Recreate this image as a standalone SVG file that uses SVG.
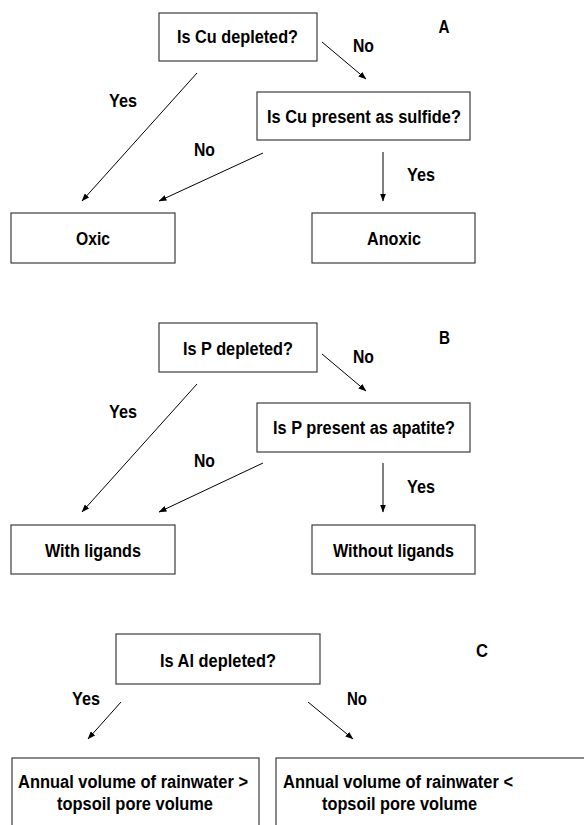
<svg xmlns="http://www.w3.org/2000/svg" width="584" height="825" viewBox="0 0 584 825">
<defs>
<marker id="ah" markerWidth="8" markerHeight="6" refX="7.5" refY="3" orient="auto" markerUnits="userSpaceOnUse">
<path d="M0,0 L8,3 L0,6 Z" fill="#000"/>
</marker>
<style>
.box{fill:#fff;stroke:#3c3c3c;stroke-width:1.2}
.t{font-family:"Liberation Sans",Arial,sans-serif;font-weight:bold;font-size:18px;fill:#000;text-anchor:middle}
.l{font-family:"Liberation Sans",Arial,sans-serif;font-weight:bold;font-size:18px;fill:#000}
.c{stroke:#000;stroke-width:1;fill:none;marker-end:url(#ah)}
</style>
</defs>
<rect width="584" height="825" fill="#fff"/>

<g id="panelA">
<g id="a_q1"><rect class="box" x="159" y="13" width="158" height="48"/><text class="t" x="237.5" y="43" textLength="121" lengthAdjust="spacingAndGlyphs">Is Cu depleted?</text></g>
<g id="a_q2"><rect class="box" x="257" y="92" width="213" height="48"/><text class="t" x="364" y="123" textLength="194" lengthAdjust="spacingAndGlyphs">Is Cu present as sulfide?</text></g>
<g id="a_oxic"><rect class="box" x="11" y="213" width="164" height="50"/><text class="t" x="93" y="245" textLength="34" lengthAdjust="spacingAndGlyphs">Oxic</text></g>
<g id="a_anoxic"><rect class="box" x="312" y="213" width="163" height="50"/><text class="t" x="394" y="245" textLength="54" lengthAdjust="spacingAndGlyphs">Anoxic</text></g>
<g id="a_label"><text class="l" x="438.5" y="33" textLength="11" lengthAdjust="spacingAndGlyphs">A</text></g>
</g>

<g id="panelB">
<g id="b_q1"><rect class="box" x="159" y="323" width="158" height="49"/><text class="t" x="238" y="355" textLength="110" lengthAdjust="spacingAndGlyphs">Is P depleted?</text></g>
<g id="b_q2"><rect class="box" x="257" y="403" width="213" height="49"/><text class="t" x="364" y="434" textLength="182" lengthAdjust="spacingAndGlyphs">Is P present as apatite?</text></g>
<g id="b_with"><rect class="box" x="11" y="525" width="164" height="49"/><text class="t" x="93" y="557" textLength="96" lengthAdjust="spacingAndGlyphs">With ligands</text></g>
<g id="b_without"><rect class="box" x="312" y="525" width="163" height="49"/><text class="t" x="393.5" y="557" textLength="121" lengthAdjust="spacingAndGlyphs">Without ligands</text></g>
<g id="b_label"><text class="l" x="439" y="344" textLength="11" lengthAdjust="spacingAndGlyphs">B</text></g>
</g>

<g id="panelC">
<g id="c_q1"><rect class="box" x="116" y="634" width="204" height="50"/><text class="t" x="218" y="667" textLength="116" lengthAdjust="spacingAndGlyphs">Is Al depleted?</text></g>
<g id="c_gt"><rect class="box" x="12" y="758" width="247" height="80"/><text class="t" x="133" y="788" textLength="230" lengthAdjust="spacingAndGlyphs">Annual volume of rainwater &gt;</text><text class="t" x="135" y="810" textLength="156" lengthAdjust="spacingAndGlyphs">topsoil pore volume</text></g>
<g id="c_lt"><rect class="box" x="276" y="758" width="320" height="80"/><text class="t" x="398" y="788" textLength="230" lengthAdjust="spacingAndGlyphs">Annual volume of rainwater &lt;</text><text class="t" x="399.5" y="810" textLength="155" lengthAdjust="spacingAndGlyphs">topsoil pore volume</text></g>
<g id="c_label"><text class="l" x="476" y="657" textLength="12" lengthAdjust="spacingAndGlyphs">C</text></g>
</g>

<g id="connectors">
<line class="c" x1="322" y1="42" x2="366" y2="79"/>
<line class="c" x1="197" y1="73" x2="82" y2="201"/>
<line class="c" x1="263" y1="153" x2="159" y2="201"/>
<line class="c" x1="383" y1="152" x2="383" y2="201"/>
<line class="c" x1="322" y1="354" x2="366" y2="391"/>
<line class="c" x1="197" y1="384" x2="82" y2="512"/>
<line class="c" x1="263" y1="463" x2="159" y2="512"/>
<line class="c" x1="383" y1="463" x2="383" y2="512"/>
<line class="c" x1="121" y1="702" x2="88" y2="739"/>
<line class="c" x1="308" y1="702" x2="353" y2="739"/>
</g>

<g id="edge-labels">
<text class="l" x="353" y="52" textLength="21" lengthAdjust="spacingAndGlyphs">No</text>
<text class="l" x="109" y="107" textLength="28" lengthAdjust="spacingAndGlyphs">Yes</text>
<text class="l" x="194" y="156" textLength="21" lengthAdjust="spacingAndGlyphs">No</text>
<text class="l" x="407" y="181" textLength="28" lengthAdjust="spacingAndGlyphs">Yes</text>
<text class="l" x="353" y="363" textLength="21" lengthAdjust="spacingAndGlyphs">No</text>
<text class="l" x="109" y="418" textLength="28" lengthAdjust="spacingAndGlyphs">Yes</text>
<text class="l" x="194" y="467" textLength="21" lengthAdjust="spacingAndGlyphs">No</text>
<text class="l" x="407" y="493" textLength="28" lengthAdjust="spacingAndGlyphs">Yes</text>
<text class="l" x="72" y="705" textLength="28" lengthAdjust="spacingAndGlyphs">Yes</text>
<text class="l" x="347" y="705" textLength="20" lengthAdjust="spacingAndGlyphs">No</text>
</g>
</svg>
